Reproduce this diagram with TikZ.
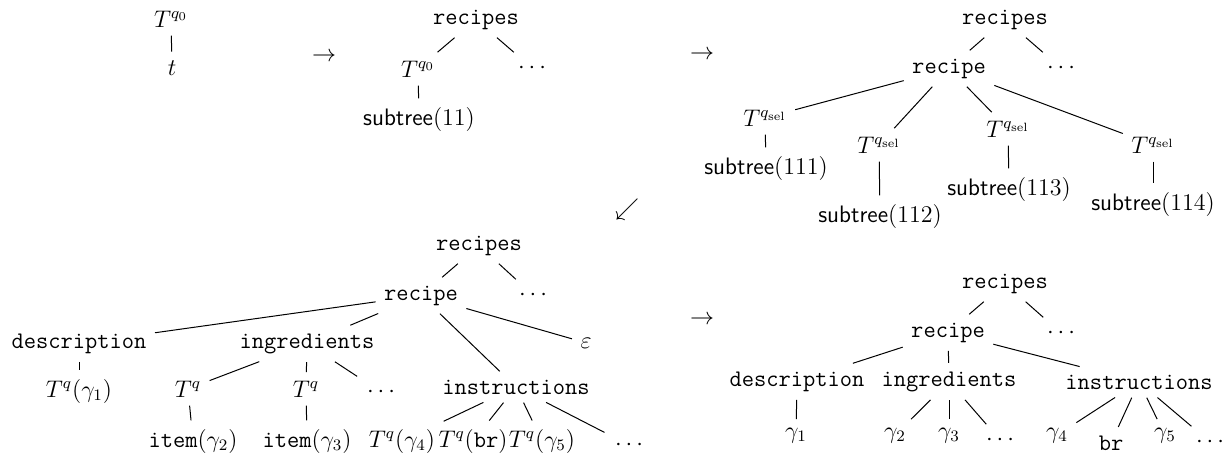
\documentclass[tikz,border=0pt]{standalone}
\begin{document}
\begin{tikzpicture}[x=0.5pt,y=-0.5pt,
  every node/.style={font=\fontsize{11.9}{14}\selectfont},
  lbl/.style={inner sep=4pt,outer sep=0pt,anchor=base},
  dts/.style={inner sep=5pt,outer sep=0pt,anchor=center},
  arr/.style={inner sep=0pt,anchor=center},
  edge/.style={line width=0.5pt,shorten <=0.3pt,shorten >=0.3pt}]
\useasboundingbox (0,0) rectangle (1229,462);
% tree 1
\node[lbl] (a0) at (171,27) {$T^{q_0}$};
\node[lbl] (a1) at (172,75) {$t$};
\draw[edge] (a0) -- (a1);
\node[arr] (ar1) at (324,57) {$\rightarrow$};
% tree 2
\node[lbl] (b0) at (476,24) {\texttt{recipes}};
\node[lbl] (b1) at (418,77) {$T^{q_0}$};
\node[dts] (b2) at (532,68) {$\cdots$};
\node[lbl] (b3) at (419,125) {\textsf{subtree}$(11)$};
\draw[edge] (b0) -- (b1);
\draw[edge] (b0) -- (b2);
\draw[edge] (b1) -- (b3);
\node[arr] (ar2) at (702,55) {$\rightarrow$};
% tree 3
\node[lbl] (c0) at (1005,24) {\texttt{recipes}};
\node[lbl] (c1) at (949,73) {\texttt{recipe}};
\node[dts] (c2) at (1061,68) {$\cdots$};
\node[lbl] (c3) at (765,126) {$T^{q_{\mathrm{sel}}}$};
\node[lbl] (c4) at (879,153) {$T^{q_{\mathrm{sel}}}$};
\node[lbl] (c5) at (1008,137) {$T^{q_{\mathrm{sel}}}$};
\node[lbl] (c6) at (1153,153) {$T^{q_{\mathrm{sel}}}$};
\node[lbl] (c7) at (766,174) {\textsf{subtree}$(111)$};
\node[lbl] (c8) at (880,222) {\textsf{subtree}$(112)$};
\node[lbl] (c9) at (1009,195) {\textsf{subtree}$(113)$};
\node[lbl] (c10) at (1153,210) {\textsf{subtree}$(114)$};
\draw[edge] (c0) -- (c1);
\draw[edge] (c0) -- (c2);
\foreach \k in {c3,c4,c5,c6} \draw[edge] (c1) -- (\k);
\draw[edge] (c3) -- (c7);
\draw[edge] (c4) -- (c8);
\draw[edge] (c5) -- (c9);
\draw[edge] (c6) -- (c10);
\node[arr] (ar3) at (627,209) {$\swarrow$};
% tree 4
\node[lbl] (d0) at (479,250) {\texttt{recipes}};
\node[lbl] (d1) at (421,300) {\texttt{recipe}};
\node[dts] (d2) at (533,295) {$\cdots$};
\node[lbl] (d3) at (79,348) {\texttt{description}};
\node[lbl] (d4) at (307,348) {\texttt{ingredients}};
\node[lbl] (d5) at (516,394) {\texttt{instructions}};
\node[lbl] (d6) at (586,348) {$\varepsilon$};
\node[lbl] (d7) at (79,397) {$T^q(\gamma_1)$};
\node[lbl] (d8) at (188,397) {$T^q$};
\node[lbl] (d9) at (306,397) {$T^q$};
\node[dts] (d10) at (381,392) {$\cdots$};
\node[lbl] (d11) at (193,447) {\texttt{item}$(\gamma_2)$};
\node[lbl] (d12) at (307,447) {\texttt{item}$(\gamma_3)$};
\node[lbl] (d13) at (402,447) {$T^q(\gamma_4)$};
\node[lbl] (d14) at (473,447) {$T^q(\texttt{br})$};
\node[lbl] (d15) at (542,447) {$T^q(\gamma_5)$};
\node[dts] (d16) at (629,445) {$\cdots$};
\draw[edge] (d0) -- (d1);
\draw[edge] (d0) -- (d2);
\foreach \k in {d3,d4,d5,d6} \draw[edge] (d1) -- (\k);
\draw[edge] (d3) -- (d7);
\foreach \k in {d8,d9,d10} \draw[edge] (d4) -- (\k);
\draw[edge] (d8) -- (d11);
\draw[edge] (d9) -- (d12);
\foreach \k in {d13,d14,d15,d16} \draw[edge] (d5) -- (\k);
\node[arr] (ar4) at (702,320) {$\rightarrow$};
% tree 5
\node[lbl] (e0) at (1005,288) {\texttt{recipes}};
\node[lbl] (e1) at (948,337) {\texttt{recipe}};
\node[dts] (e2) at (1061,333) {$\cdots$};
\node[lbl] (e3) at (797,386) {\texttt{description}};
\node[lbl] (e4) at (949,386) {\texttt{ingredients}};
\node[lbl] (e5) at (1139,389) {\texttt{instructions}};
\node[lbl] (e6) at (796,438) {$\gamma_1$};
\node[lbl] (e7) at (895,438) {$\gamma_2$};
\node[lbl] (e8) at (949,438) {$\gamma_3$};
\node[dts] (e9) at (1000,440) {$\cdots$};
\node[lbl] (e10) at (1057,438) {$\gamma_4$};
\node[lbl] (e11) at (1111,450) {\texttt{br}};
\node[lbl] (e12) at (1165,438) {$\gamma_5$};
\node[dts] (e13) at (1210,442) {$\cdots$};
\draw[edge] (e0) -- (e1);
\draw[edge] (e0) -- (e2);
\foreach \k in {e3,e4,e5} \draw[edge] (e1) -- (\k);
\draw[edge] (e3) -- (e6);
\foreach \k in {e7,e8,e9} \draw[edge] (e4) -- (\k);
\foreach \k in {e10,e11,e12,e13} \draw[edge] (e5) -- (\k);
\end{tikzpicture}
\end{document}
